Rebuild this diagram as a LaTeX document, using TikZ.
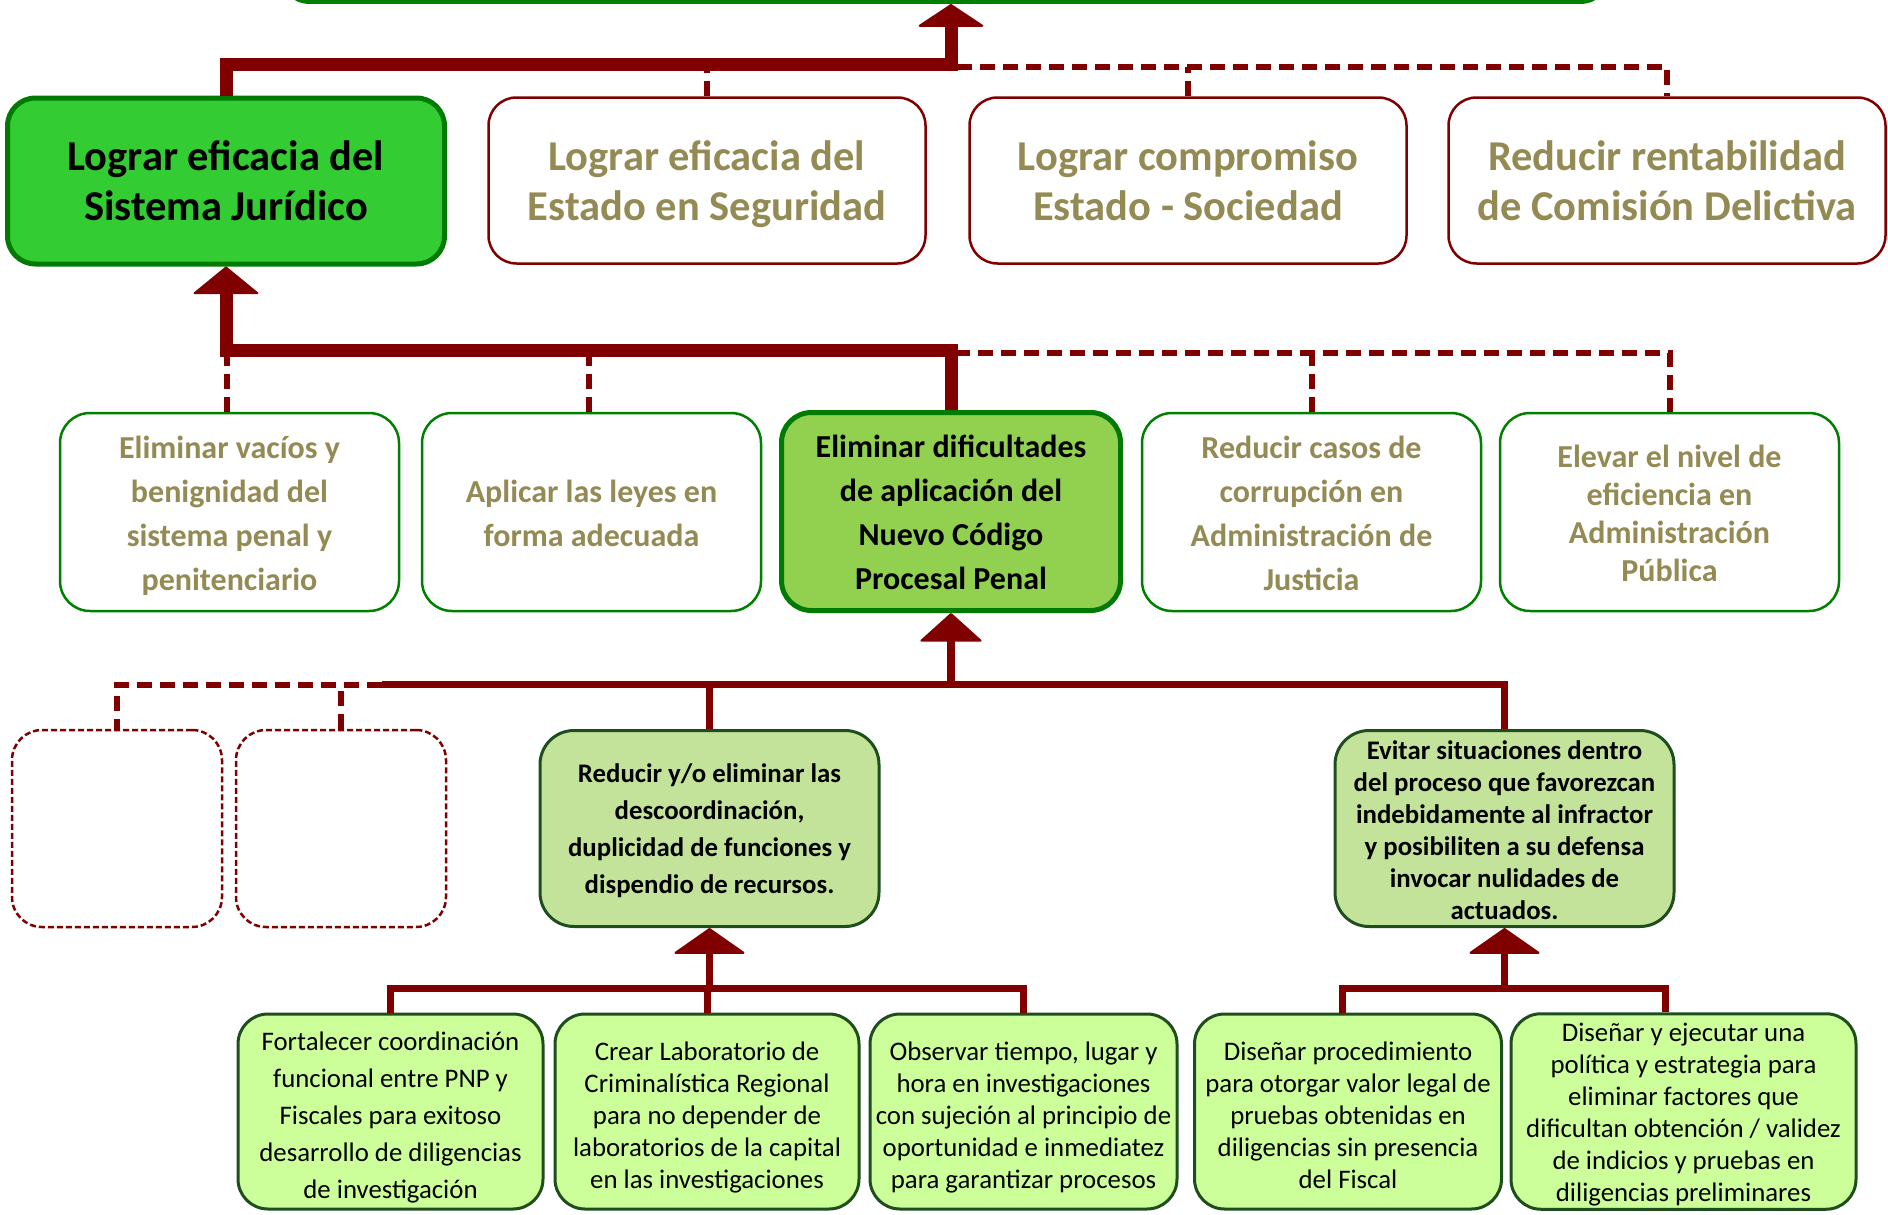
\documentclass[tikz,border=0pt]{standalone}
\usepackage{fontspec}
\setmainfont{Carlito}
\usetikzlibrary{arrows.meta}
\definecolor{dred}{HTML}{800000}
\definecolor{olivetxt}{HTML}{948A54}
\definecolor{dgreen}{HTML}{007A00}
\definecolor{mgreen}{HTML}{008000}
\definecolor{bgreen}{HTML}{33CC33}
\definecolor{lgreen}{HTML}{92D050}
\definecolor{pgreen}{HTML}{C3E39B}
\definecolor{ygreen}{HTML}{CCFF99}
\definecolor{fgreen}{HTML}{1E4E1E}
\newcommand{\myup}[1]{\rule{0pt}{#1pt}}
\newcommand{\mydn}[1]{\rule[-#1pt]{0pt}{0pt}}
\tikzset{
  topbox/.style={draw=dred, line width=2.5pt, fill=white, text=olivetxt, rounded corners=28pt,
    minimum width=437pt, minimum height=166pt, inner sep=0pt, align=center,
    font=\fontsize{42.5pt}{50pt}\selectfont\bfseries},
  mainbox/.style={topbox, draw=dgreen, line width=5pt, fill=bgreen, text=black},
  midbox/.style={draw=mgreen, line width=2.5pt, fill=white, text=olivetxt, rounded corners=30pt,
    minimum width=339pt, minimum height=198pt, inner sep=0pt, align=center,
    font=\fontsize{32pt}{44pt}\selectfont\bfseries},
  keybox/.style={midbox, draw=dgreen, line width=5pt, fill=lgreen, text=black},
  emptybox/.style={draw=dred, line width=2.5pt, dash pattern=on 6pt off 3pt, rounded corners=30pt,
    minimum width=210pt, minimum height=197pt, inner sep=0pt},
  subbox/.style={draw=fgreen, line width=3pt, fill=pgreen, text=black, rounded corners=34pt,
    minimum width=339pt, minimum height=196pt, inner sep=0pt, align=center,
    font=\fontsize{26.8pt}{32pt}\selectfont\bfseries},
  actbox/.style={draw=fgreen, line width=3pt, fill=ygreen, text=black, rounded corners=30pt,
    minimum height=195pt, inner sep=0pt, align=center,
    font=\fontsize{26.8pt}{32pt}\selectfont},
  thickbar/.style={draw=dred, line width=13pt},
  medbar/.style={draw=dred, line width=7pt},
  dashbar/.style={draw=dred, line width=6pt, dash pattern=on 15pt off 8pt},
  tipA/.style={-{Triangle[width=69pt,length=23pt,line width=2pt,round]}},
  tipB/.style={-{Triangle[width=68pt,length=28pt,line width=2pt,round]}},
  tipC/.style={-{Triangle[width=64pt,length=29pt,line width=2pt,round]}},
  tipD/.style={-{Triangle[width=74pt,length=26pt,line width=2pt,round]}},
}
\begin{document}
\begin{tikzpicture}[x=1pt,y=-1pt]
\useasboundingbox (0,0) rectangle (1888,1215);
\fill[white] (0,0) rectangle (1888,1215);

% partially visible top box
\node[draw=mgreen, line width=5pt, rounded corners=30pt, minimum width=1330pt,
      minimum height=200pt, inner sep=0pt] (top) at (945,-98.5) {};

% first row
\node[mainbox] (A) at (226,181) {\myup{39}Lograr eficacia del\\Sistema Jurídico\mydn{10}};
\node[topbox] (B) at (707,180.5) {\myup{39}Lograr eficacia del\\Estado en Seguridad\mydn{10}};
\node[topbox] (C) at (1188,180.5) {\myup{39}Lograr compromiso\\Estado - Sociedad\mydn{10}};
\node[topbox] (D) at (1667,180.5) {\myup{39}Reducir rentabilidad\\de Comisión Delictiva\mydn{10}};

% second row
\node[midbox] (E) at (229.5,512) {\myup{32}Eliminar vacíos y\\benignidad del\\sistema penal y\\penitenciario\mydn{8}};
\node[midbox] (F) at (591.5,512) {\myup{32}Aplicar las leyes en\\forma adecuada\mydn{8}};
\node[keybox] (G) at (951,511.5) {\myup{32}Eliminar dificultades\\de aplicación del\\Nuevo Código\\Procesal Penal\mydn{8}};
\node[midbox] (H) at (1311.5,512) {\myup{32}Reducir casos de\\corrupción en\\Administración de\\Justicia\mydn{8}};
\node[midbox, font=\fontsize{32pt}{38pt}\selectfont\bfseries] (I) at (1669.5,512) {\myup{32}Elevar el nivel de\\eficiencia en\\Administración\\Pública\mydn{8}};

% third row
\node[emptybox] (J1) at (117,828.5) {};
\node[emptybox] (J2) at (341,828.5) {};
\node[subbox, font=\fontsize{26.8pt}{37pt}\selectfont\bfseries] (K) at (709.5,828.5) {\myup{26}Reducir y/o eliminar las\\descoordinación,\\duplicidad de funciones y\\dispendio de recursos.\mydn{7}};
\node[subbox] (L) at (1504.5,828.5) {\myup{29}Evitar situaciones dentro\\del proceso que favorezcan\\indebidamente al infractor\\y posibiliten a su defensa\\invocar nulidades de\\actuados.\mydn{7}};

% fourth row
\node[actbox, minimum width=305pt, font=\fontsize{26.8pt}{37pt}\selectfont] (M) at (390.5,1111.5) {\myup{33}Fortalecer coordinación\\funcional entre PNP y\\Fiscales para exitoso\\desarrollo de diligencias\\de investigación\mydn{7}};
\node[actbox, minimum width=304pt] (N) at (707,1111.5) {\myup{33}Crear Laboratorio de\\Criminalística Regional\\para no depender de\\laboratorios de la capital\\en las investigaciones\mydn{7}};
\node[actbox, minimum width=307pt] (O) at (1023.5,1111.5) {\myup{33}Observar tiempo, lugar y\\hora en investigaciones\\con sujeción al principio de\\oportunidad e inmediatez\\para garantizar procesos\mydn{7}};
\node[actbox, minimum width=307pt] (P) at (1348,1111.5) {\myup{32}Diseñar procedimiento\\para otorgar valor legal de\\pruebas obtenidas en\\diligencias sin presencia\\del Fiscal\mydn{7}};
\node[actbox, minimum width=345pt] (Q) at (1683.5,1111.5) {\myup{28}Diseñar y ejecutar una\\política y estrategia para\\eliminar factores que\\dificultan obtención / validez\\de indicios y pruebas en\\diligencias preliminares\mydn{7.5}};

% junction coordinates
\coordinate (j1) at (951,64.5);
\coordinate (d1) at (957,67);
\coordinate (y2) at (0,350.5);
\coordinate (d2) at (955,353);
\coordinate (s3) at (382,684.5);
\coordinate (y4) at (0,988);

% level 1 -> top
\draw[thickbar, tipA] (A.north) |- (j1) -- (j1 |- top.south);
\draw[dashbar] (d1) -| (D.north);
\draw[dashbar] (B.north) -- (B.north |- d1);
\draw[dashbar] (C.north) -- (C.north |- d1);

% level 2 -> A
\draw[thickbar, tipB] (G.north) |- (A.south |- y2) -- (A.south);
\draw[dashbar] (d2) -| (I.north);
\draw[dashbar] (H.north) -- (H.north |- d2);
\draw[dashbar] ([xshift=-3pt]E.north) -- ([xshift=-3pt]E.north |- d2);
\draw[dashbar] ([xshift=-3pt]F.north) -- ([xshift=-3pt]F.north |- d2);

% level 3 -> G
\draw[medbar] (s3) -| (L.north);
\draw[medbar] (K.north) -- (K.north |- s3);
\draw[medbar, line width=8pt, tipC] (G.south |- s3) -- (G.south);
\draw[dashbar] (s3) -| (J1.north);
\draw[dashbar] (J2.north) -- (J2.north |- s3);

% level 4 -> K
\draw[medbar] (M.north) |- (O.north |- y4) -- (O.north);
\draw[medbar] (N.north) -- (N.north |- y4);
\draw[medbar, tipD] (K.south |- y4) -- (K.south);

% level 4 -> L
\draw[medbar] ([xshift=-6pt]P.north) |- ([xshift=-18pt]Q.north |- y4) -- ([xshift=-18pt]Q.north);
\draw[medbar, tipD] (L.south |- y4) -- (L.south);
\end{tikzpicture}
\end{document}
